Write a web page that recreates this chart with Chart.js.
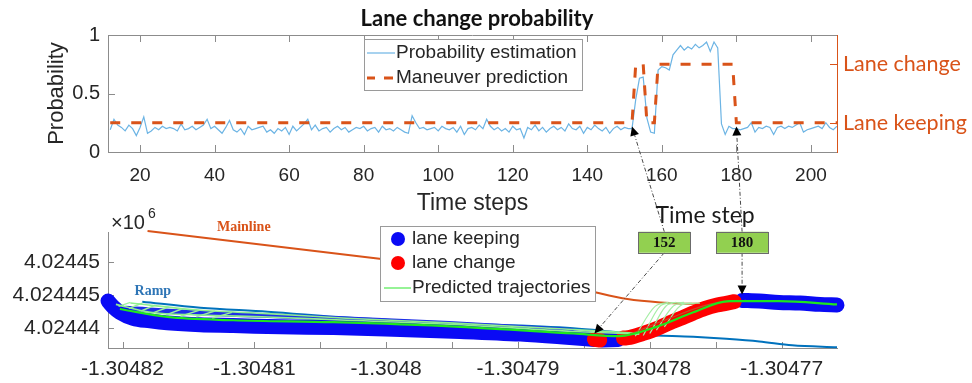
<!DOCTYPE html>
<html><head><meta charset="utf-8">
<script src="https://cdn.jsdelivr.net/npm/chart.js@4.4.1/dist/chart.umd.min.js"></script>
<style>
html,body{margin:0;padding:0;background:#fff;}
#wrap{position:relative;width:972px;height:383px;overflow:hidden;}
#wrap canvas{position:absolute;left:0;top:0;}
</style></head><body>
<div id="wrap"><canvas id="probChart" width="972" height="383"></canvas><canvas id="trajChart" width="972" height="383"></canvas></div>
<script>
// ---------- upper panel: lane change probability per time step ----------
const firstStep = 12;
const probEstimation = [
  0.19,0.28,0.23,0.21,0.18,0.23,0.20,0.14,0.21,0.30,
  0.16,0.18,0.21,0.19,0.22,0.20,0.21,0.20,0.18,0.24,
  0.19,0.20,0.22,0.19,0.21,0.23,0.28,0.20,0.22,0.19,
  0.16,0.21,0.27,0.19,0.17,0.20,0.15,0.22,0.19,0.20,
  0.21,0.22,0.17,0.19,0.16,0.20,0.18,0.21,0.15,0.22,
  0.18,0.21,0.24,0.28,0.19,0.23,0.18,0.20,0.21,0.17,
  0.20,0.22,0.19,0.21,0.17,0.19,0.21,0.20,0.22,0.18,
  0.20,0.21,0.17,0.22,0.19,0.20,0.18,0.21,0.19,0.17,
  0.16,0.31,0.25,0.20,0.21,0.19,0.20,0.21,0.18,0.22,
  0.20,0.19,0.21,0.17,0.22,0.15,0.20,0.21,0.19,0.23,
  0.20,0.28,0.22,0.19,0.21,0.18,0.20,0.17,0.22,0.19,
  0.20,0.12,0.21,0.19,0.23,0.18,0.21,0.17,0.20,0.22,
  0.19,0.21,0.18,0.24,0.20,0.19,0.22,0.16,0.21,0.19,
  0.23,0.20,0.18,0.21,0.16,0.20,0.22,0.19,0.21,0.20,
  0.20,0.45,0.63,0.64,0.29,0.17,0.16,0.70,0.73,0.72,
  0.70,0.83,0.87,0.91,0.87,0.90,0.88,0.92,0.89,0.91,
  0.94,0.86,0.94,0.89,0.24,0.15,0.22,0.20,0.20,0.19,
  0.20,0.21,0.25,0.17,0.21,0.20,0.22,0.21,0.15,0.21,
  0.22,0.20,0.22,0.21,0.23,0.25,0.17,0.19,0.20,0.21,
  0.22,0.20,0.25,0.21,0.19,0.22
];
// maneuver prediction: steps where the predicted class switches
const predSteps  = [12, 152, 153, 155, 156, 158, 159, 179, 180, 207];
const predValues = [0.25,0.25,0.75,0.75,0.25,0.25,0.75,0.75,0.25,0.25];
const stepTicks = [20,40,60,80,100,120,140,160,180,200];
const probTicks = [0, 0.5, 1];
const probLabels = ['0', '0.5', '1'];
const maneuverLevels = [0.25, 0.75];
const maneuverNames = ['Lane keeping', 'Lane change'];

// ---------- lower panel: vehicle track (longitude, northing in m) ----------
const keep1Lon = [-1.3048211,-1.3048207,-1.3048202,-1.3048192,-1.3048179,-1.3048166,-1.3048141,-1.3048116,-1.3048080,-1.3048040,-1.3047989,-1.3047944,-1.3047898,-1.3047868,-1.3047842];
const keep1Lat = [4024444.1,4024443.2,4024442.4,4024441.5,4024441.1,4024440.8,4024440.5,4024440.4,4024440.2,4024440.1,4024439.8,4024439.5,4024439.1,4024438.7,4024438.3];
const change1Lon = [-1.3047842,-1.3047838];
const change1Lat = [4024438.3,4024438.2];
const keep2Lon = [-1.3047836,-1.3047824];
const keep2Lat = [4024438.2,4024438.3];
const change2Lon = [-1.3047820,-1.3047815,-1.3047805,-1.3047795,-1.3047785,-1.3047775,-1.3047767,-1.3047758,-1.3047749,-1.3047736];
const change2Lat = [4024438.5,4024438.6,4024439.2,4024439.9,4024440.8,4024441.6,4024442.3,4024443.0,4024443.5,4024444.0];
const keep3Lon = [-1.3047730,-1.3047717,-1.3047702,-1.3047686,-1.3047671,-1.3047658];
const keep3Lat = [4024444.2,4024444.1,4024443.9,4024443.8,4024443.6,4024443.5];
const keepTrace = [[-1.3048198,4024443.0],[-1.3048141,4024442.3],[-1.3048090,4024441.9],[-1.3048030,4024441.4],[-1.3047952,4024440.7],[-1.3047858,4024439.6]];

const mainLon = [-1.3048181,-1.3048005,-1.3047914,-1.3047868,-1.3047843,-1.3047817,-1.3047792,-1.3047767,-1.3047717];
const mainLat = [4024454.7,4024450.5,4024448.3,4024446.7,4024445.5,4024444.4,4024443.9,4024443.7,4024443.7];
const rampLon = [-1.3048185,-1.3048141,-1.3048090,-1.3048030,-1.3047952,-1.3047858,-1.3047830,-1.3047805,-1.3047767,-1.3047742,-1.3047717,-1.3047692,-1.3047658];
const rampLat = [4024444.0,4024443.1,4024442.5,4024441.6,4024440.8,4024440.0,4024439.5,4024439.0,4024438.7,4024438.4,4024438.0,4024437.4,4024437.1];

// predicted trajectories
const predCenter = [[-1.3048202,4024442.9],[-1.3048166,4024441.7],[-1.3048116,4024441.2],[-1.3048040,4024440.9],[-1.3047944,4024440.2],[-1.3047858,4024439.2],[-1.3047823,4024438.8],[-1.3047795,4024440.2],[-1.3047767,4024442.4],[-1.3047740,4024444.1],[-1.3047702,4024444.1],[-1.3047658,4024443.6]];
const predUpperA = [[-1.3048205,4024443.6],[-1.3048179,4024442.4],[-1.3048141,4024442.0],[-1.3048090,4024441.7],[-1.3048030,4024441.2],[-1.3047952,4024440.6],[-1.3047858,4024439.5],[-1.3047808,4024439.1]];
const predUpperB = [[-1.3048194,4024443.8],[-1.3048141,4024442.7],[-1.3048090,4024442.2],[-1.3048030,4024441.5],[-1.3047952,4024440.8],[-1.3047858,4024439.8],[-1.3047808,4024439.2]];
const predStubs = [
  [[-1.3048203,4024443.3],[-1.3048194,4024443.9]],
  [[-1.3048195,4024443.0],[-1.3048185,4024443.8]],
  [[-1.3048186,4024442.6],[-1.3048175,4024443.5]],
  [[-1.3048177,4024442.3],[-1.3048165,4024443.2]],
  [[-1.3048167,4024442.0],[-1.3048155,4024442.9]],
  [[-1.3048156,4024441.8],[-1.3048142,4024442.7]],
  [[-1.3048144,4024441.7],[-1.3048130,4024442.6]],
  [[-1.3048132,4024441.5],[-1.3048117,4024442.4]]
];
const predFan = [
  [[-1.3047811,4024438.8],[-1.3047796,4024443.3],[-1.3047786,4024443.9]],
  [[-1.3047805,4024438.9],[-1.3047791,4024443.5],[-1.3047780,4024443.9]],
  [[-1.3047800,4024439.2],[-1.3047786,4024443.6],[-1.3047774,4024443.9]],
  [[-1.3047795,4024439.7],[-1.3047780,4024443.6],[-1.3047768,4024443.8]],
  [[-1.3047789,4024440.2],[-1.3047775,4024443.6],[-1.3047762,4024443.8]]
];
const predMerge = [[-1.3047815,4024439.1],[-1.3047785,4024441.5],[-1.3047755,4024443.6],[-1.3047727,4024444.2]];

// highlighted time steps and where the vehicle was at those steps
const markedSteps = [152, 180];
const markedLon = [-1.3047842, -1.3047730];
const markedLat = [4024438.3, 4024444.2];
const markBoxLon = [-1.3047789, -1.3047730];
const markBoxLat = 4024453.0;

const lonTicks = [-1.30482,-1.304815,-1.30481,-1.304805,-1.3048,-1.304795,-1.30479,-1.304785,-1.30478,-1.304775,-1.30477];
const lonLabels = ['-1.30482','','-1.30481','','-1.3048','','-1.30479','','-1.30478','','-1.30477'];
const northTicks = [4024440, 4024445, 4024450];
const northLabels = ['4.02444','4.024445','4.02445'];

// ---------- styling ----------
const SANS = "'Liberation Sans', Arial, sans-serif";
const CAL = "Lato, 'Open Sans', sans-serif";
const SERIF = "'Liberation Serif', 'DejaVu Serif', serif";
const AXIS = '#8c8c8c';
const TXT = '#262626';
const ORANGE = '#D95319';
const PROB_BLUE = '#6cb4e4';

function tickMarks(chart, opts) {
  const {ctx, chartArea: a} = chart;
  const xs = chart.scales.x, ys = chart.scales.y;
  const L = opts.len;
  ctx.save();
  ctx.lineWidth = 1;
  ctx.strokeStyle = AXIS;
  ctx.beginPath();
  xs.ticks.forEach(t => {
    const p = Math.round(xs.getPixelForValue(t.value)) + 0.5;
    ctx.moveTo(p, a.bottom); ctx.lineTo(p, a.bottom - L);
    if (opts.box) { ctx.moveTo(p, a.top); ctx.lineTo(p, a.top + L); }
  });
  ys.ticks.forEach(t => {
    const p = Math.round(ys.getPixelForValue(t.value)) + 0.5;
    ctx.moveTo(a.left, p); ctx.lineTo(a.left + L, p);
  });
  if (opts.box) { ctx.moveTo(a.left, Math.round(a.top) + 0.5); ctx.lineTo(a.right, Math.round(a.top) + 0.5); }
  ctx.stroke();
  if (chart.scales.y2) {
    const y2 = chart.scales.y2;
    ctx.strokeStyle = ORANGE;
    ctx.beginPath();
    y2.ticks.forEach(t => {
      const p = Math.round(y2.getPixelForValue(t.value)) + 0.5;
      ctx.moveTo(a.right, p); ctx.lineTo(a.right - L, p);
    });
    ctx.stroke();
  }
  ctx.restore();
}

function legendFrame(ctx, x, y, w, h) {
  ctx.fillStyle = '#fff';
  ctx.fillRect(x, y, w, h);
  ctx.strokeStyle = '#9a9a9a';
  ctx.lineWidth = 1;
  ctx.strokeRect(x + 0.5, y + 0.5, w, h);
}

const probDecor = {
  id: 'probDecor',
  afterDraw(chart) {
    const ctx = chart.ctx;
    tickMarks(chart, {len: 7, box: true});
    ctx.save();
    // title and axis titles
    ctx.fillStyle = '#111';
    ctx.font = `bold 22px ${CAL}`;
    ctx.textAlign = 'center'; ctx.textBaseline = 'alphabetic';
    ctx.fillText('Lane change probability', 477, 26);
    ctx.fillStyle = TXT;
    ctx.font = `23px ${SANS}`;
    const a = chart.chartArea;
    ctx.fillText('Time steps', (a.left + a.right) / 2, 210);
    ctx.save();
    ctx.translate(57, (a.top + a.bottom) / 2);
    ctx.rotate(-Math.PI / 2);
    ctx.font = `22px ${SANS}`;
    ctx.textBaseline = 'middle';
    ctx.fillText('Probability', 0, 0);
    ctx.restore();
    // legend
    legendFrame(ctx, 364, 39, 218, 51);
    ctx.lineWidth = 1.2; ctx.strokeStyle = PROB_BLUE;
    ctx.beginPath(); ctx.moveTo(367, 53); ctx.lineTo(395, 53); ctx.stroke();
    ctx.lineWidth = 3; ctx.strokeStyle = ORANGE;
    ctx.beginPath(); ctx.moveTo(367, 78); ctx.lineTo(375, 78); ctx.moveTo(384, 78); ctx.lineTo(393, 78); ctx.stroke();
    ctx.fillStyle = TXT; ctx.font = `19px ${SANS}`;
    ctx.textAlign = 'left'; ctx.textBaseline = 'middle';
    ctx.fillText('Probability estimation', 396, 53);
    ctx.fillText('Maneuver prediction', 396, 78);
    ctx.restore();
  }
};

const probChart = new Chart(document.getElementById('probChart'), {
  type: 'line',
  data: {
    datasets: [
      { label: 'Maneuver prediction', data: predSteps.map((s, i) => ({x: s, y: predValues[i]})),
        borderColor: ORANGE, borderWidth: 3, borderDash: [10, 11], pointRadius: 0, tension: 0, order: 1 },
      { label: 'Probability estimation', data: probEstimation.map((p, i) => ({x: firstStep + i, y: p})),
        borderColor: PROB_BLUE, borderWidth: 1.2, pointRadius: 0, tension: 0, order: 2 }
    ]
  },
  options: {
    responsive: false, animation: false, events: [],
    layout: {padding: {left: 0, right: 0, top: 35, bottom: 181}},
    plugins: {legend: {display: false}, tooltip: {enabled: false}, title: {display: false}},
    scales: {
      x: {
        type: 'linear', min: 11.4, max: 207,
        afterBuildTicks: s => { s.ticks = stepTicks.map(v => ({value: v})); },
        afterFit: s => { s.height = 50; },
        grid: {display: false, drawTicks: false},
        border: {display: true, color: AXIS},
        ticks: {color: TXT, font: {family: SANS, size: 19}, padding: 12, maxRotation: 0, autoSkip: false}
      },
      y: {
        min: 0, max: 1,
        afterBuildTicks: s => { s.ticks = probTicks.map(v => ({value: v})); },
        afterFit: s => { s.width = 108; },
        grid: {display: false, drawTicks: false},
        border: {display: true, color: AXIS},
        ticks: {color: TXT, font: {family: SANS, size: 20}, padding: 8,
                callback: (v, i) => probLabels[i]}
      },
      y2: {
        position: 'right', min: 0, max: 1,
        afterBuildTicks: s => { s.ticks = maneuverLevels.map(v => ({value: v})); },
        afterFit: s => { s.width = 135; },
        grid: {display: false, drawTicks: false},
        border: {display: true, color: ORANGE},
        ticks: {color: ORANGE, font: {family: CAL, size: 21.5}, padding: 6,
                callback: (v, i) => maneuverNames[i]}
      }
    }
  },
  plugins: [probDecor]
});

// ---------- lower panel ----------
function path(lons, lats) { return lons.map((x, i) => ({x, y: lats[i]})); }
function pairs(list) { return list.map(p => ({x: p[0], y: p[1]})); }

const BAND = 15;
function band(data, color, order) {
  return { data, borderColor: color, borderWidth: BAND, borderCapStyle: 'round', borderJoinStyle: 'round',
           pointRadius: 0, cubicInterpolationMode: 'monotone', clip: false, order };
}
function thin(data, color, width, order) {
  return { data, borderColor: color, borderWidth: width, pointRadius: 0,
           cubicInterpolationMode: 'monotone', clip: false, order };
}

const trajDatasets = [
  thin(path(mainLon, mainLat), ORANGE, 2, 20),
  thin(path(rampLon, rampLat), '#0072BD', 2, 19),
  band(path(keep1Lon, keep1Lat), '#0a0af5', 14),
  band(path(keep2Lon, keep2Lat), '#0a0af5', 14),
  band(path(keep3Lon, keep3Lat), '#0a0af5', 14),
  thin(pairs(keepTrace), '#1f2fe8', 5, 15),
  band(path(change1Lon, change1Lat), '#ff0000', 13),
  band(path(change2Lon, change2Lat), '#ff0000', 13),
  thin(pairs(predUpperA), '#8fef8f', 1.6, 12),
  thin(pairs(predUpperB), '#8fef8f', 1.6, 12),
  ...predStubs.map(f => thin(pairs(f), '#9ef29e', 1.4, 12)),
  ...predFan.map(f => thin(pairs(f), '#a6eea6', 1.2, 11)),
  thin(pairs(predMerge), '#c0502a', 1.2, 10),
  thin(pairs(predCenter), '#1ee61e', 2.2, 9)
];

const trajDecor = {
  id: 'trajDecor',
  beforeDatasetsDraw(chart) { tickMarks(chart, {len: 6, box: false}); },
  afterDraw(chart) {
    const ctx = chart.ctx;
    const xs = chart.scales.x, ys = chart.scales.y;
    const px = probChart.scales.x, py = probChart.scales.y;
    ctx.save();
    // exponent of the northing axis
    const a = chart.chartArea;
    ctx.fillStyle = TXT; ctx.textBaseline = 'alphabetic'; ctx.textAlign = 'left';
    ctx.font = `20px ${SANS}`;
    ctx.fillText('\u00d710', a.left + 3, a.top - 3);
    ctx.font = `14px ${SANS}`;
    ctx.fillText('6', a.left + 40, a.top - 14);
    // road labels
    ctx.textAlign = 'center'; ctx.textBaseline = 'middle';
    ctx.font = `bold 14px ${SERIF}`;
    ctx.fillStyle = ORANGE;
    ctx.fillText('Mainline', xs.getPixelForValue(-1.3048108), ys.getPixelForValue(4024455.3));
    ctx.fillStyle = '#2E75B6';
    ctx.fillText('Ramp', xs.getPixelForValue(-1.3048177), ys.getPixelForValue(4024445.5));
    // legend
    legendFrame(ctx, 380, 226, 215, 75);
    ctx.fillStyle = '#0a0af5';
    ctx.beginPath(); ctx.arc(398, 239, 7, 0, Math.PI * 2); ctx.fill();
    ctx.fillStyle = '#ff0000';
    ctx.beginPath(); ctx.arc(398, 263, 7, 0, Math.PI * 2); ctx.fill();
    ctx.strokeStyle = '#7cf07c'; ctx.lineWidth = 1.6;
    ctx.beginPath(); ctx.moveTo(384, 288); ctx.lineTo(411, 288); ctx.stroke();
    ctx.fillStyle = TXT; ctx.font = `19px ${SANS}`; ctx.textAlign = 'left';
    ctx.fillText('lane keeping', 412, 239);
    ctx.fillText('lane change', 412, 263);
    ctx.fillText('Predicted trajectories', 412, 288);
    // time step call-outs
    ctx.textAlign = 'center';
    ctx.font = `23px ${CAL}`; ctx.fillStyle = '#1a1a1a';
    ctx.fillText('Time step', xs.getPixelForValue(-1.3047758), ys.getPixelForValue(4024457.1));
    markedSteps.forEach((step, i) => {
      const bx = xs.getPixelForValue(markBoxLon[i]);
      const by = ys.getPixelForValue(markBoxLat);
      const bw = 52, bh = 21;
      const topTip = {x: px.getPixelForValue(step), y: py.getPixelForValue(probEstimation[step - firstStep]) - 2};
      const botTip = {x: xs.getPixelForValue(markedLon[i]), y: ys.getPixelForValue(markedLat[i]) - 6};
      arrow(ctx, bx, by - bh / 2, topTip.x, topTip.y);
      arrow(ctx, bx, by + bh / 2, botTip.x, botTip.y);
      ctx.fillStyle = '#92D050';
      ctx.fillRect(bx - bw / 2, by - bh / 2, bw, bh);
      ctx.strokeStyle = '#6b6b6b'; ctx.lineWidth = 1; ctx.setLineDash([]);
      ctx.strokeRect(Math.round(bx - bw / 2) + 0.5, Math.round(by - bh / 2) + 0.5, bw, bh);
      ctx.fillStyle = '#111'; ctx.font = `bold 15px ${SERIF}`;
      ctx.fillText(String(step), bx, by + 1);
    });
    ctx.restore();
  }
};

function arrow(ctx, x0, y0, x1, y1) {
  ctx.save();
  ctx.strokeStyle = '#4a4a4a'; ctx.lineWidth = 1;
  ctx.setLineDash([4, 2, 1, 2]);
  const ang = Math.atan2(y1 - y0, x1 - x0);
  const hl = 9, hw = 4.5;
  const ex = x1 - Math.cos(ang) * hl, ey = y1 - Math.sin(ang) * hl;
  ctx.beginPath(); ctx.moveTo(x0, y0); ctx.lineTo(ex, ey); ctx.stroke();
  ctx.setLineDash([]);
  ctx.fillStyle = '#000';
  ctx.beginPath();
  ctx.moveTo(x1, y1);
  ctx.lineTo(ex + Math.sin(ang) * hw, ey - Math.cos(ang) * hw);
  ctx.lineTo(ex - Math.sin(ang) * hw, ey + Math.cos(ang) * hw);
  ctx.closePath(); ctx.fill();
  ctx.restore();
}

const trajChart = new Chart(document.getElementById('trajChart'), {
  type: 'line',
  data: {datasets: trajDatasets},
  options: {
    responsive: false, animation: false, events: [],
    layout: {padding: {left: 0, right: 135, top: 232, bottom: 0}},
    plugins: {legend: {display: false}, tooltip: {enabled: false}, title: {display: false}},
    scales: {
      x: {
        type: 'linear', min: -1.3048211, max: -1.3047658,
        afterBuildTicks: s => { s.ticks = lonTicks.map(v => ({value: v})); },
        afterFit: s => { s.height = 35; },
        grid: {display: false, drawTicks: false},
        border: {display: true, color: AXIS},
        ticks: {color: TXT, font: {family: SANS, size: 21}, padding: 9, maxRotation: 0, autoSkip: false,
                callback: (v, i) => lonLabels[i]}
      },
      y: {
        type: 'linear', min: 4024437, max: 4024454.55,
        afterBuildTicks: s => { s.ticks = northTicks.map(v => ({value: v})); },
        afterFit: s => { s.width = 108; },
        grid: {display: false, drawTicks: false},
        border: {display: true, color: AXIS},
        ticks: {color: TXT, font: {family: SANS, size: 21}, padding: 8,
                callback: (v, i) => northLabels[i]}
      }
    }
  },
  plugins: [trajDecor]
});
</script></body></html>
